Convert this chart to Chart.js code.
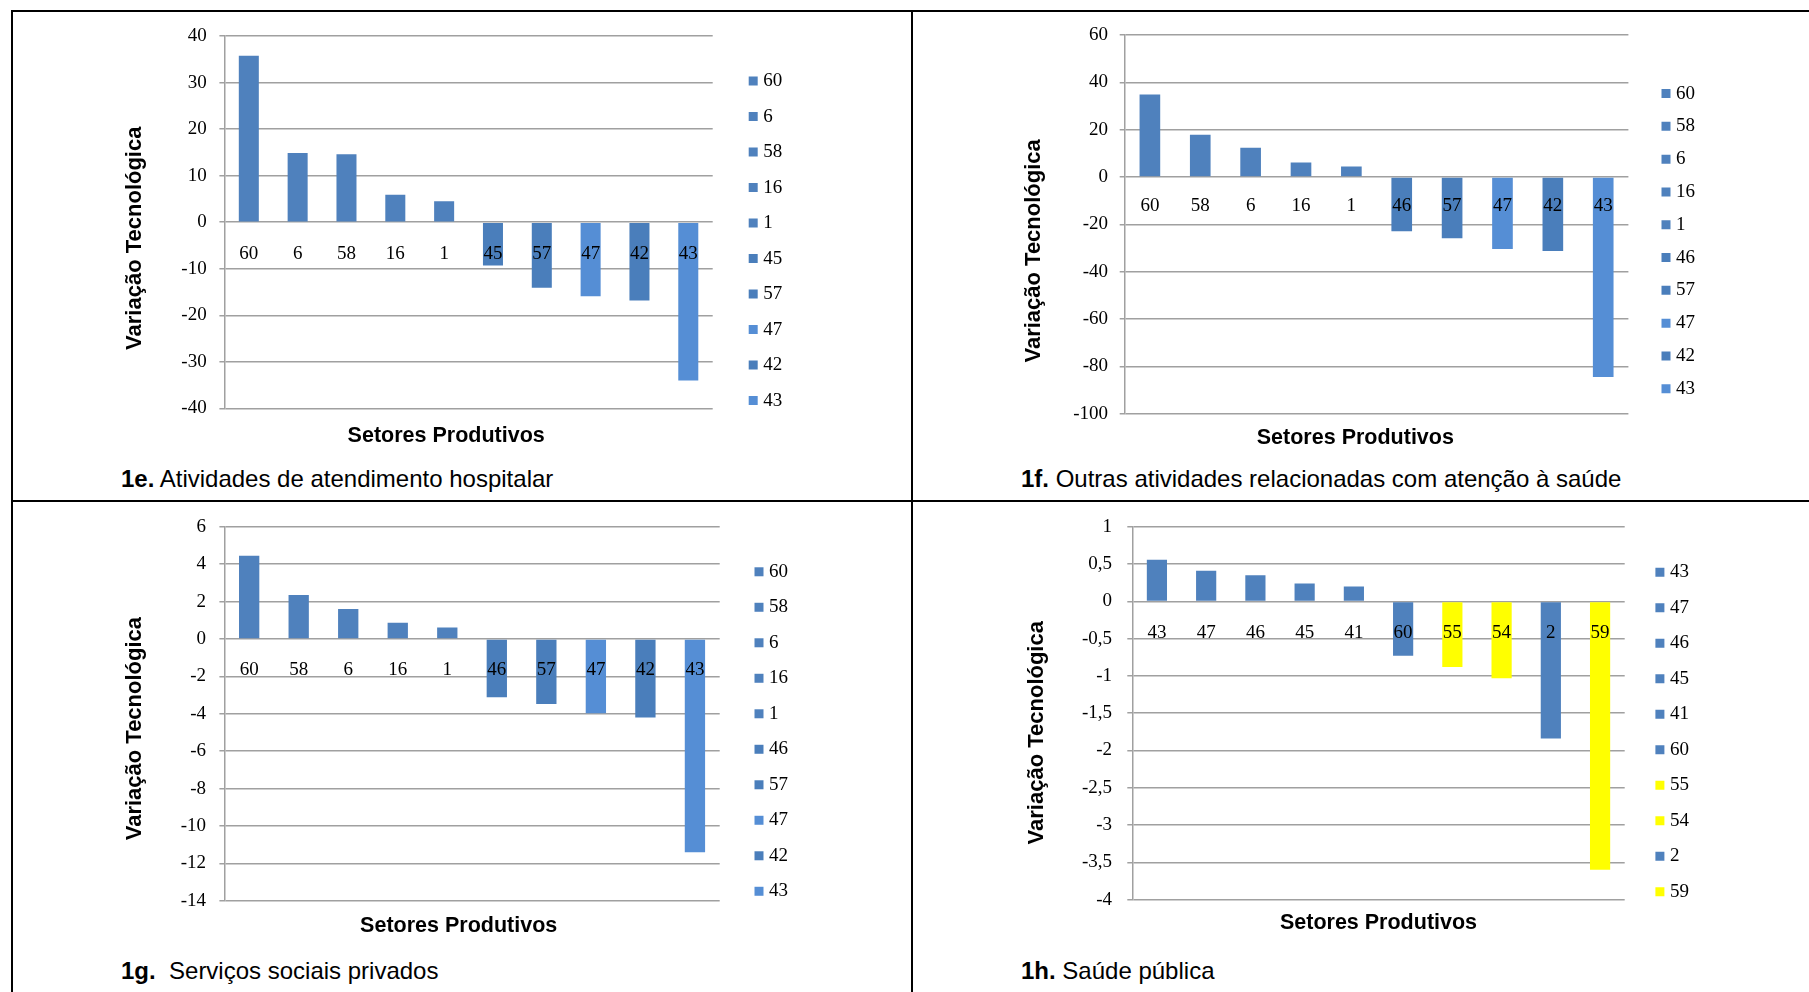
<!DOCTYPE html>
<html lang="pt-BR">
<head>
<meta charset="utf-8">
<title>Variação Tecnológica por Setores Produtivos</title>
<script src="https://cdn.jsdelivr.net/npm/chart.js@4.4.1/dist/chart.umd.min.js"></script>
<style>
  body { margin: 0; background: #fff; }
  #page { position: relative; width: 1809px; height: 992px; overflow: hidden; background: #fff; }
  .line { position: absolute; background: #000; }
  canvas { position: absolute; }
  .caption { position: absolute; font-family: 'Liberation Sans', Arial, sans-serif; font-size: 24px; line-height: 28px; color: #000; white-space: pre; }
</style>
</head>
<body>
<div id="page">
  <!-- moldura da tabela -->
  <div class="line" style="left:11px; top:10px; width:1798px; height:2px"></div>
  <div class="line" style="left:11px; top:10px; width:2px; height:982px"></div>
  <div class="line" style="left:911px; top:10px; width:2px; height:982px"></div>
  <div class="line" style="left:11px; top:500px; width:1798px; height:2px"></div>

  <canvas id="chart1e" width="897" height="447" style="left:13px; top:13px; width:897px; height:447px"></canvas>
  <canvas id="chart1f" width="895" height="447" style="left:914px; top:13px; width:895px; height:447px"></canvas>
  <canvas id="chart1g" width="897" height="447" style="left:13px; top:503px; width:897px; height:447px"></canvas>
  <canvas id="chart1h" width="895" height="447" style="left:914px; top:503px; width:895px; height:447px"></canvas>

  <div class="caption" style="left:121px; top:465px"><b>1e.</b> Atividades de atendimento hospitalar</div>
  <div class="caption" style="left:1021px; top:465px"><b>1f.</b> Outras atividades relacionadas com atenção à saúde</div>
  <div class="caption" style="left:121px; top:957px"><b>1g.</b>  Serviços sociais privados</div>
  <div class="caption" style="left:1021px; top:957px"><b>1h.</b> Saúde pública</div>
</div>

<script>
// Setores (categorias) e variação tecnológica de cada painel
const labels1e = ['60', '6', '58', '16', '1', '45', '57', '47', '42', '43'];
const values1e = [35.8, 14.9, 14.6, 5.9, 4.5, -9.3, -14.1, -15.9, -16.8, -34.0];

const labels1f = ['60', '58', '6', '16', '1', '46', '57', '47', '42', '43'];
const values1f = [34.9, 17.9, 12.4, 6.2, 4.5, -22.9, -25.9, -30.4, -31.3, -84.5];

const labels1g = ['60', '58', '6', '16', '1', '46', '57', '47', '42', '43'];
const values1g = [4.45, 2.36, 1.61, 0.87, 0.62, -3.12, -3.47, -3.97, -4.2, -11.4];

const labels1h = ['43', '47', '46', '45', '41', '60', '55', '54', '2', '59'];
const values1h = [0.56, 0.41, 0.35, 0.24, 0.2, -0.73, -0.88, -1.03, -1.84, -3.6];

// eixo y de cada painel: [min, max, passo]
const yTicks1e = [-40, 40, 10];
const yTicks1f = [-100, 60, 20];
const yTicks1g = [-14, 6, 2];
const yTicks1h = [-4, 1, 0.5];

// cores das barras
const azul = '#4F81BD';
const azulEscuro = '#4A7EBB';
const azulClaro = '#558ED5';
const amarelo = '#FFFF00';

const colors1e = [azul, azul, azul, azul, azul, azulEscuro, azulEscuro, azulClaro, azulEscuro, azulClaro];
const colors1f = [azul, azul, azul, azul, azul, azulEscuro, azulEscuro, azulClaro, azulEscuro, azulClaro];
const colors1g = [azul, azul, azul, azul, azul, azulEscuro, azulEscuro, azulClaro, azulEscuro, azulClaro];
const colors1h = [azul, azul, azul, azul, azul, azul, amarelo, amarelo, azul, amarelo];

const sans = "'Liberation Sans', Arial, sans-serif";
const serif = "'Liberation Serif', 'Times New Roman', serif";
Chart.defaults.font.family = serif;
Chart.defaults.color = '#000';

// empurra os títulos dos eixos para onde o Excel os deixou
const shiftTitles = {
  id: 'shiftTitles',
  afterLayout(chart, args, opts) {
    const yt = chart.scales.yt;
    yt.top += opts.dy;
    yt.bottom += opts.dy;
    const t = chart.titleBlock;
    t.left += opts.dx;
    t.right += opts.dx;
  }
};

// monta um painel; "lay" guarda só espaçamentos da página
function makeChart(id, labels, values, colors, yTicks, lay) {
  const [yMin, yMax, yStep] = yTicks;
  return new Chart(document.getElementById(id), {
    type: 'bar',
    data: {
      labels: labels,
      datasets: [{
        label: 'Variação Tecnológica',
        data: values,
        backgroundColor: colors,
        borderWidth: 0,
        barPercentage: 0.41,
        categoryPercentage: 1,
        xAxisID: 'x',
        yAxisID: 'y'
      }]
    },
    plugins: [shiftTitles],
    options: {
      responsive: false,
      animation: false,
      devicePixelRatio: 1,
      layout: { padding: { left: lay.pl, top: lay.pt, right: lay.pr, bottom: lay.pb } },
      scales: {
        x: {
          type: 'category',
          position: { y: 0 }, // rótulos junto da linha do zero, como no Excel
          grid: { display: false },
          border: { display: false },
          ticks: {
            z: 1,
            color: '#000',
            font: { family: serif, size: 19 },
            padding: lay.labelPad,
            maxRotation: 0,
            autoSkip: false
          }
        },
        y: {
          position: 'left',
          min: yMin,
          max: yMax,
          ticks: {
            stepSize: yStep,
            color: '#000',
            font: { family: serif, size: 19, lineHeight: lay.tickLH },
            padding: lay.tickPad,
            callback: v => String(v).replace('.', ',')
          },
          grid: { color: '#A0A0A0', lineWidth: 1.5, tickLength: 5 },
          border: { color: '#A0A0A0', width: 1.5 },
          afterFit: s => { s.width = lay.yWidth; }
        },
        // eixo só com o título, por fora do eixo y
        yt: {
          type: 'linear',
          position: 'left',
          weight: 1,
          grid: { display: false },
          border: { display: false },
          ticks: { display: false },
          title: {
            display: true,
            text: 'Variação Tecnológica',
            color: '#000',
            font: { family: sans, size: 22, weight: 'bold' },
            padding: 0
          },
          afterFit: s => { s.width = 30; }
        },
        // eixo vazio, só abre espaço entre o gráfico e a legenda
        y2: {
          type: 'linear',
          position: 'right',
          grid: { display: false },
          border: { display: false },
          ticks: { display: false },
          afterFit: s => { s.width = lay.y2Width; }
        }
      },
      plugins: {
        shiftTitles: { dx: lay.dx, dy: lay.dy },
        legend: {
          position: 'right',
          align: 'center',
          onClick: null,
          labels: {
            usePointStyle: true,
            pointStyle: 'rect',
            boxWidth: 1,
            boxHeight: 9,
            padding: lay.lp,
            color: '#000',
            font: { family: serif, size: 19 },
            generateLabels: chart => chart.data.labels.map((l, i) => ({
              text: l,
              fillStyle: colors[i],
              strokeStyle: colors[i],
              lineWidth: 0,
              pointStyle: 'rect',
              hidden: false,
              index: i,
              datasetIndex: 0
            }))
          }
        },
        title: {
          display: true,
          text: 'Setores Produtivos',
          position: 'bottom',
          fullSize: false,
          color: '#000',
          font: { family: sans, size: 21.5, weight: 'bold', lineHeight: 1 },
          padding: { top: lay.tpTop, bottom: lay.tpBottom }
        },
        tooltip: { enabled: false }
      }
    }
  });
}

makeChart('chart1e', labels1e, values1e, colors1e, yTicks1e,
  { pl: 108.8, yWidth: 72.6, tickPad: 12.7, tickLH: 1.1, pt: 21.6, pb: 13, pr: 117.8, tpTop: 17.15, tpBottom: 0.05,
    lp: 16.5, y2Width: 23.5, labelPad: 12.7, dx: -22.4, dy: 16 });
makeChart('chart1f', labels1f, values1f, colors1f, yTicks1f,
  { pl: 106.6, yWidth: 74.1, tickPad: 11.7, tickLH: 1.1, pt: 20.5, pb: 11.25, pr: 104, tpTop: 13.65, tpBottom: 0,
    lp: 13.8, y2Width: 23.3, labelPad: 9.3, dx: -21.2, dy: 26.5 });
makeChart('chart1g', labels1g, values1g, colors1g, yTicks1g,
  { pl: 108.8, yWidth: 72.6, tickPad: 13.4, tickLH: 1.1, pt: 22, pb: 11.95, pr: 112, tpTop: 14.65, tpBottom: 1.1,
    lp: 16.5, y2Width: 22.3, labelPad: 11.3, dx: -13.4, dy: 14.8 });
makeChart('chart1h', labels1h, values1h, colors1h, yTicks1h,
  { pl: 109.8, yWidth: 78.5, tickPad: 15.3, tickLH: 0.9, pt: 22, pb: 10.8, pr: 110.1, tpTop: 12.95, tpBottom: 5.15,
    lp: 16.5, y2Width: 18.2, labelPad: 12, dx: 0, dy: 19.5 });
</script>
</body>
</html>
